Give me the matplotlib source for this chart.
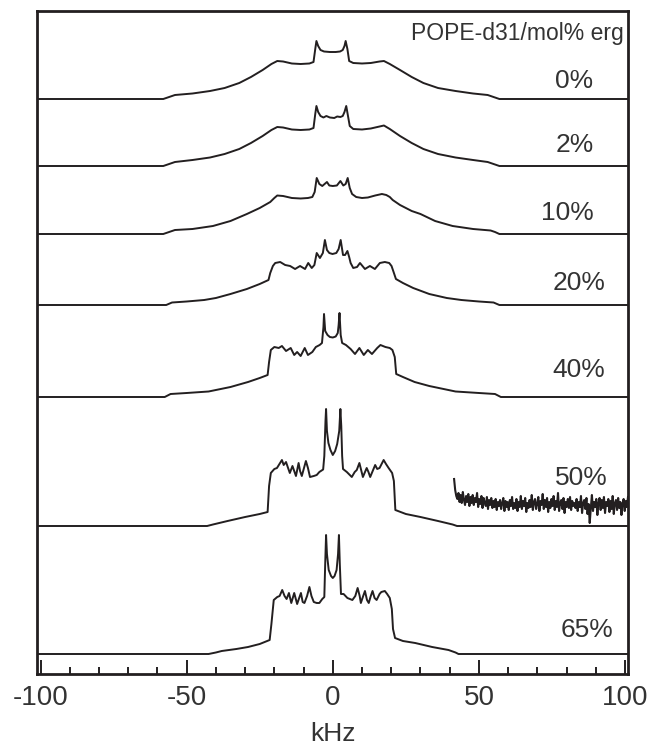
import numpy as np
import matplotlib
matplotlib.use("Agg")
import matplotlib.pyplot as plt
from matplotlib.ticker import MultipleLocator

plt.rcParams['font.family'] = ['Liberation Sans', 'DejaVu Sans']
plt.rcParams['axes.unicode_minus'] = False

INK = '#231f20'

# 2H NMR spectra of POPE-d31 with ergosterol.
# x in kHz, intensity in arbitrary units (height above each trace's baseline)
labels = ['0%', '2%', '10%', '20%', '40%', '50%', '65%']
offsets = [575, 508, 440, 369, 277, 148, 20]

khz_0 = [-101, -58, -56, -54, -48, -42, -37, -32, -28, -24, -21, -19, -17, -14, -11, -8,
         -6.6, -6.0, -5.6, -5.0, -4.2, -3, -1, 1, 2.5, 3.4, 4.0, 4.4, 5.0, 5.6, 7, 10, 13,
         16, 17.5, 19.5, 23, 27, 31, 36, 42, 48, 53, 55, 57, 101]
int_0 = [0, 0, 2, 4, 5.5, 8, 11, 16, 22, 29, 35, 38, 37.5, 35.5, 35, 35.5,
         37, 50, 58, 53, 49, 47.5, 47, 47, 47.5, 49, 53, 58, 50, 38, 36, 35.5, 36,
         37.5, 38, 35, 29, 22, 16, 11, 8, 5.5, 4, 2, 0, 0]

khz_2 = [-101, -58, -56, -54, -48, -42, -37, -32, -28, -24, -21, -19, -17, -14, -11, -8,
         -6.6, -6.0, -5.6, -5.0, -4.2, -3.2, -2.2, -1, 0.5, 1.5, 2.6, 3.4, 4.0, 4.6, 5.2,
         5.8, 7, 10, 13, 16, 17.5, 19.5, 23, 27, 31, 36, 42, 48, 53, 55, 57, 101]
int_2 = [0, 0, 2, 4, 6, 8.5, 12, 17, 23, 30, 36, 39, 38.5, 36.5, 36, 36.5,
         38, 52, 60, 54, 50, 48.5, 50, 48.5, 48, 49.5, 49, 50, 54, 60, 50,
         40, 37, 36.5, 37.5, 39.5, 40.5, 37, 30, 23, 17, 12, 8.5, 6, 4, 2, 0, 0]

khz_10 = [-101, -58, -56, -54, -48, -41, -35, -29.4, -25, -21.4, -20, -19, -17, -14, -11,
          -8.5, -7, -6.2, -5.5, -4.6, -3.6, -2.0, -1.2, 0, 1.4, 2.6, 3.6, 4.4, 5.1, 5.8,
          6.6, 8, 10, 12, 14.5, 16.8, 18.3, 19.5, 20.5, 23, 27, 30, 35, 41, 48, 54, 55.5,
          57, 101]
int_10 = [0, 0, 2, 4, 5, 8, 13, 20, 26, 32, 36, 38.5, 38, 36, 35.5,
          36, 37, 42, 56, 50, 48, 52, 48.5, 48, 48.5, 53, 48.5, 50, 56, 46,
          40, 37, 36, 36.5, 38.5, 40, 39, 37, 34, 29, 23, 20, 13, 8, 5, 3.5, 2,
          0, 0]

khz_20 = [-101, -57, -55, -50, -44, -40, -35, -29.4, -25, -22, -21.4, -20.5, -19.7, -18,
          -16.3, -14.6, -12.9, -11.2, -9.5, -8.4, -7.2, -6.3, -5.5, -4.4, -3.4, -2.7, -2.0,
          -1.2, -0.1, 1.2, 2.0, 2.7, 3.5, 4.2, 5.0, 5.6, 6.1, 7.0, 8.3, 9.3, 11, 12.7, 14.4,
          16.1, 17.8, 19.3, 20.1, 20.8, 21.6, 24, 27.5, 33, 39, 44, 50, 55, 57, 101]
int_20 = [0, 0, 2.5, 3.5, 5, 7, 11, 16, 21, 25, 32, 39, 42, 43,
          40, 39, 36, 39, 36, 42, 37, 40, 52, 47, 52, 65, 55,
          52, 51, 52, 56, 65, 50, 50, 54, 48, 42, 37, 38, 42, 36, 39, 36,
          42, 43, 42, 39, 33, 26, 22, 17, 11, 7, 5, 3.5, 2.5, 0, 0]

khz_40 = [-101, -57.5, -55.5, -50, -42.5, -35, -29, -25, -22.3, -21.8, -21.2, -20, -18.5,
          -17.4, -16, -14.4, -13.2, -12.2, -11, -9.6, -8.5, -7, -5.8, -4.5, -3.7, -3.2, -3.0,
          -2.6, -1.8, -1, 0, 1, 1.7, 2.0, 2.3, 2.7, 3.2, 4.5, 6.1, 7.6, 9.1, 10.6, 12, 13.4,
          15.2, 16.3, 18, 19.5, 20.4, 21.2, 21.7, 24, 28, 33, 42, 50, 55.5, 57.5, 101]
int_40 = [0, 0, 3, 4, 5.5, 10, 15, 19, 22, 35, 47, 50, 49,
          51, 46, 49, 42, 45, 41, 49, 42, 45, 50, 52, 54, 70, 83,
          66, 62, 60, 59.5, 60.5, 64, 72, 84, 62, 54, 52, 48, 43, 49, 42, 47, 43,
          49, 52, 50, 49, 47, 40, 23, 20, 15, 11, 5.5, 4, 3, 0, 0]

khz_50 = [-101, -43, -41, -36, -30, -25, -22.3, -21.8, -21.2, -20, -19.1, -17.4, -16.8, -16,
          -15.3, -14.7, -13.8, -12.6, -11.7, -11.2, -10.6, -9.2, -8.5, -7.8, -6.5, -5.5,
          -4.6, -3.3, -2.9, -2.5, -2.3, -2.0, -1.5, -0.8, 0, 0.8, 1.5, 2.2, 2.6, 2.9, 3.2,
          3.5, 4.8, 6.5, 7.5, 8.2, 9.1, 9.7, 10.3, 11.6, 12.2, 12.8, 14.5, 15.2, 16, 17.4,
          18.2, 19.1, 20.3, 20.9, 21.4, 25, 30, 36, 41, 42.5, 101]
int_50 = [0, 0, 1.5, 5, 9, 12, 14, 40, 53, 57, 58, 66, 61, 64,
          58, 53, 60, 50, 63, 55, 50, 65, 58, 49, 50, 51,
          54, 56.5, 70, 105, 117, 95, 83, 76, 71, 75, 82, 95, 117, 100, 70,
          57, 54, 49, 54, 56, 63, 56, 49, 58, 54, 49, 61, 57, 58, 66,
          62, 58, 53, 45, 16, 12, 9, 5, 1.5, 0, 0]

khz_65 = [-101, -42.5, -40, -38, -33, -29, -25, -21.6, -21, -20.2, -19, -18.2, -17.3, -16.5,
          -15.8, -15, -14.2, -13.2, -12.2, -11.5, -10.9, -10.3, -9.7, -8.8, -8, -7.3, -6.5,
          -5.5, -4.6, -3.6, -2.9, -2.6, -2.3, -2.0, -1.4, -0.6, 0, 0.6, 1.3, 1.8, 2.1, 2.4,
          2.8, 3.7, 5, 6.7, 7.7, 8.5, 9.2, 9.6, 10.4, 11, 11.7, 12.3, 13, 13.6, 14.3, 15,
          16, 16.6, 17.8, 18.6, 19.5, 20.2, 20.6, 21.3, 24, 28.2, 34, 39.6, 42, 43, 101]
int_65 = [0, 0, 1.5, 3, 5, 7, 10, 14, 30, 54, 57, 58, 64, 58,
          55, 61, 51, 61, 50, 56, 61, 52, 51, 58, 67, 58, 52,
          51, 51, 55, 57, 90, 119, 100, 84, 78, 76, 78, 84, 100, 119, 90,
          60, 60, 56, 54, 58, 66, 58, 51, 58, 63, 54, 51, 58, 63, 56, 54,
          60, 62, 63, 60, 56, 45, 25, 16, 13, 11, 7, 4, 1.5, 0, 0]

# vertically expanded baseline region of the 50% spectrum (inset trace)
noise_50 = [47, 36, 30, 27, 33, 24, 31, 23, 34, 26, 21, 30, 24, 32, 20, 29, 23, 31, 21, 28,
            24, 33, 19, 27, 22, 30, 18, 28, 23, 20, 29, 17, 26, 21, 28, 18, 25, 19, 27, 16,
            24, 20, 26, 17, 23, 28, 15, 25, 19, 24, 16, 26, 20, 29, 17, 23, 18, 27, 15, 24,
            19, 30, 17, 25, 20, 28, 14, 23, 18, 26, 19, 31, 16, 24, 27, 17, 22, 29, 15, 25,
            21, 32, 17, 26, 19, 28, 14, 24, 18, 27, 20, 30, 16, 25, 19, 33, 15, 23, 26, 17,
            28, 13, 24, 19, 27, 18, 29, 16, 25, 20, 23, 18, 27, 15, 24, 19, 30, 13, 23, 26,
            17, 28, 12, 22, 3, 18, 31, 15, 24, 19, 27, 11, 23, 28, 16, 26, 18, 29, 13, 24,
            20, 27, 14, 25, 17, 30, 12, 23, 26, 16, 28, 18, 24, 11, 22, 27, 15, 25, 19, 29]

spectra = [(khz_0, int_0), (khz_2, int_2), (khz_10, int_10), (khz_20, int_20),
           (khz_40, int_40), (khz_50, int_50), (khz_65, int_65)]
label_pos = [(89.2, 586), (89.2, 522), (89.2, 454), (93.3, 384), (93.3, 297),
             (94.0, 189), (96.0, 37)]

fig = plt.figure(figsize=(6.56, 7.47), dpi=100)
ax = fig.add_axes([37 / 656, 73 / 747, 591 / 656, 663 / 747])

for (x, y), off in zip(spectra, offsets):
    ax.plot(x, np.array(y) + off, color=INK, lw=1.4)

noise_x = np.linspace(41.5, 101, len(noise_50))
ax.plot(noise_x, np.array(noise_50) + offsets[5], color=INK, lw=1.5)

for lab, (lx, ly) in zip(labels, label_pos):
    ax.text(lx, ly, lab, ha='right', va='baseline', fontsize=19, color='#333333')
ax.text(99.5, 634, 'POPE-d31/mol% erg', ha='right', va='baseline', fontsize=16.5,
        color='#333333')

ax.set_xlim(-101.2, 101.0)
ax.set_ylim(0, 663)
ax.set_yticks([])
ax.xaxis.set_major_locator(MultipleLocator(50))
ax.xaxis.set_minor_locator(MultipleLocator(10))
ax.tick_params(axis='x', which='major', direction='in', length=10, width=1.4,
               color=INK, labelsize=20, pad=8, labelcolor='#333333')
ax.tick_params(axis='x', which='minor', direction='in', length=5, width=1.4, color=INK)
ax.set_xlabel('kHz', fontsize=19, color='#333333', labelpad=8)
for s in ax.spines.values():
    s.set_linewidth(2.0)
    s.set_color(INK)

fig.savefig('out.png', dpi=100)
